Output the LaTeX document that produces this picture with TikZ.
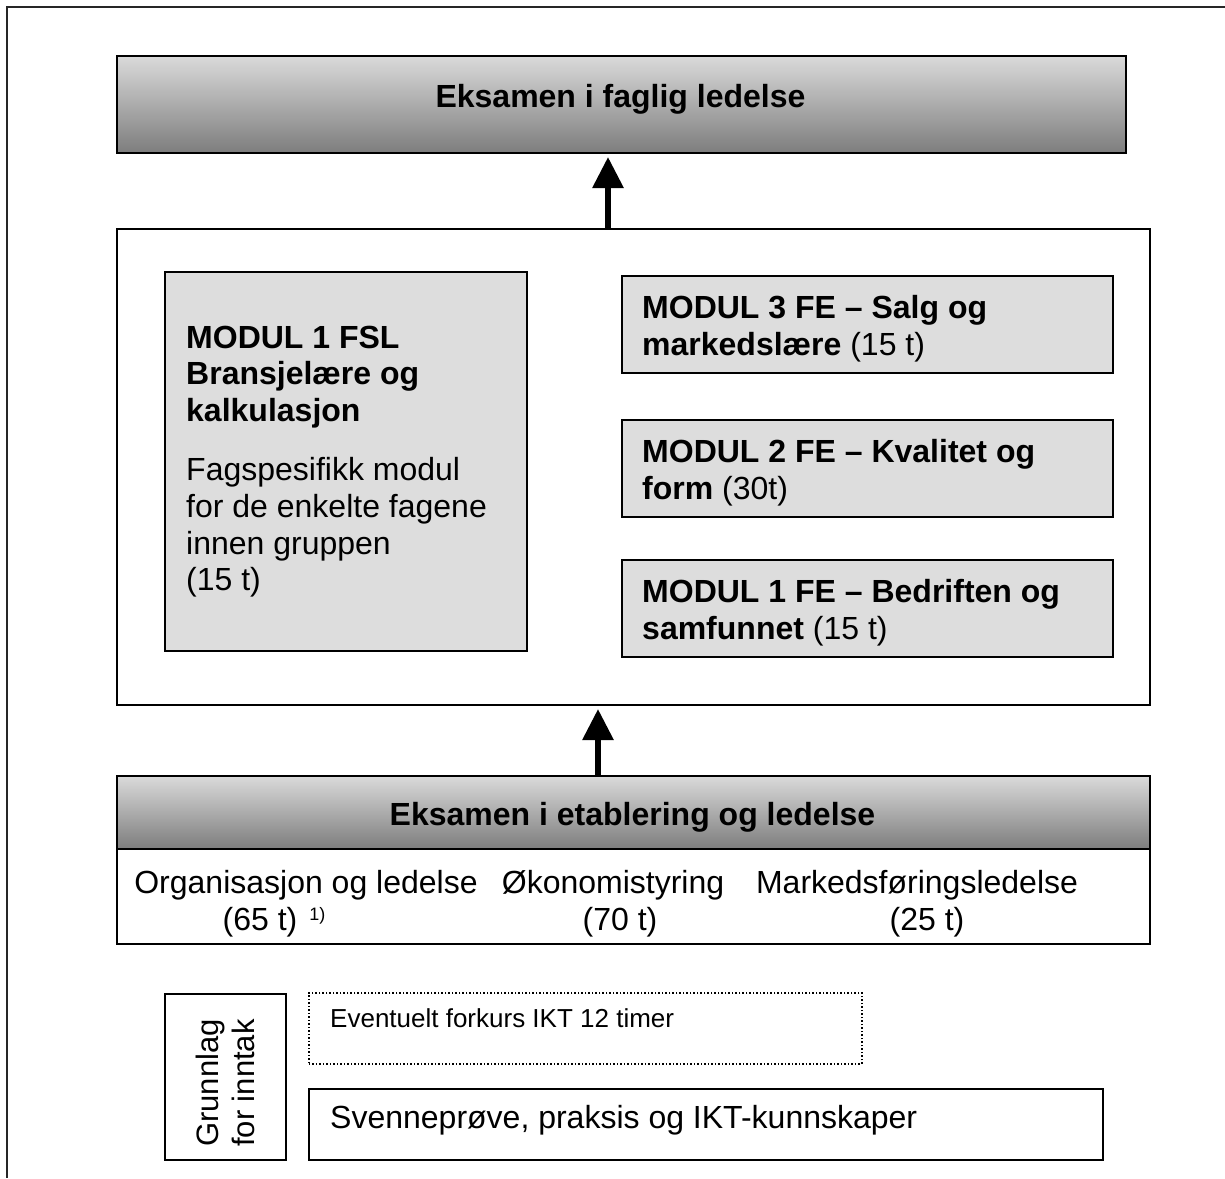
\documentclass[tikz,border=0pt]{standalone}
\usepackage{fontspec}
\setmainfont{Liberation Sans}
\usetikzlibrary{arrows.meta}
\definecolor{boxgrey}{RGB}{221,221,221}
\definecolor{gradtop}{RGB}{218,218,218}
\definecolor{gradbot}{RGB}{125,125,125}
\newcommand{\bigf}{\fontsize{32}{36.8}\selectfont}
\newcommand{\midf}{\fontsize{31}{36}\selectfont}
\newcommand{\smallf}{\fontsize{26}{30}\selectfont}
\newcommand{\supf}{\fontsize{18}{20}\selectfont}
\tikzset{
  x=1pt, y=-1pt,
  frameline/.style={line width=2pt, draw=black!85},
  plainbox/.style={draw=black, line width=2pt, fill=white, inner sep=0pt, anchor=north west},
  greybox/.style={plainbox, fill=boxgrey},
  gradbox/.style={plainbox, top color=gradtop, bottom color=gradbot},
  dotbox/.style={draw=black, line width=1.5pt, dotted, inner sep=0pt, anchor=north west},
  txt/.style={inner sep=0pt, anchor=base west, font=\bigf},
  ctxt/.style={inner sep=0pt, anchor=base, font=\bigf},
  uparrow/.style={line width=6pt, -{Triangle[width=30pt 0 0,length=31pt 0 0]}}
}
\begin{document}
\begin{tikzpicture}
\useasboundingbox (0,0) rectangle (1225,1178);
% outer frame (top and left edges)
\draw[frameline] (1225,7) -- (7,7) -- (7,1178);

% top exam box
\node[gradbox, minimum width=1009pt, minimum height=97pt] (top) at (116,55) {};
\node[ctxt] (toptxt) at (620.5,107) {\textbf{Eksamen i faglig ledelse}};

% middle container
\node[plainbox, minimum width=1033pt, minimum height=476pt] (mid) at (116,228) {};

% left grey module
\node[greybox, minimum width=362pt, minimum height=379pt] (fsl) at (164,271) {};
\node[txt] (fsltxt) at (186,348) {\parbox[t]{330pt}{\bigf\raggedright
  \textbf{MODUL 1 FSL}\\
  \textbf{Bransjelære og}\\
  \textbf{kalkulasjon}\\[22pt]
  Fagspesifikk modul\\
  for de enkelte fagene\\
  innen gruppen\\
  (15 t)}};

% right modules
\node[greybox, minimum width=491pt, minimum height=97pt] (m3) at (621,275) {};
\node[txt] (m3a) at (642,318) {\textbf{MODUL 3 FE – Salg og}};
\node[txt] (m3b) at (642,355) {\textbf{markedslære} (15 t)};

\node[greybox, minimum width=491pt, minimum height=97pt] (m2) at (621,419) {};
\node[txt] (m2a) at (642,462) {\textbf{MODUL 2 FE – Kvalitet og}};
\node[txt] (m2b) at (642,499) {\textbf{form} (30t)};

\node[greybox, minimum width=491pt, minimum height=97pt] (m1) at (621,559) {};
\node[txt] (m1a) at (642,602) {\textbf{MODUL 1 FE – Bedriften og}};
\node[txt] (m1b) at (642,639) {\textbf{samfunnet} (15 t)};

% bottom exam box
\node[plainbox, minimum width=1033pt, minimum height=168pt] (bot) at (116,775) {};
\node[gradbox, minimum width=1033pt, minimum height=73pt] (bothead) at (116,775) {};
\node[ctxt] (bottxt) at (632.5,825) {\textbf{Eksamen i etablering og ledelse}};
\node[ctxt] (c1a) at (306,893) {Organisasjon og ledelse};
\node[ctxt] (c2a) at (613,893) {Økonomistyring};
\node[ctxt] (c3a) at (917,893) {Markedsføringsledelse};
\node[ctxt] (c1b) at (274,930) {(65 t)\hspace{12pt}\raisebox{10pt}{\supf 1)}};
\node[ctxt] (c2b) at (620,930) {(70 t)};
\node[ctxt] (c3b) at (927,930) {(25 t)};

% intake
\node[plainbox, minimum width=121pt, minimum height=166pt] (grunn) at (164,993) {};
\node[inner sep=0pt, anchor=base west, rotate=90, font=\midf] (g1) at (218,1147) {Grunnlag};
\node[inner sep=0pt, anchor=base west, rotate=90, font=\midf] (g2) at (254,1147) {for inntak};

\node[dotbox, minimum width=553pt, minimum height=71pt] (forkurs) at (308,992) {};
\node[inner sep=0pt, anchor=base west, font=\smallf] (forkurstxt) at (330,1027) {Eventuelt forkurs IKT 12 timer};

\node[plainbox, minimum width=794pt, minimum height=71pt] (svenne) at (308,1088) {};
\node[txt] (svennetxt) at (330,1128) {Svenneprøve, praksis og IKT-kunnskaper};

% arrows
\draw[uparrow, shorten >=3pt] ([xshift=-25.5pt]mid.north) -- ([xshift=-25.5pt]mid.north |- top.south);
\draw[uparrow, shorten >=3pt] ([xshift=-35.5pt]bot.north) -- ([xshift=-35.5pt]bot.north |- mid.south);
\end{tikzpicture}
\end{document}
